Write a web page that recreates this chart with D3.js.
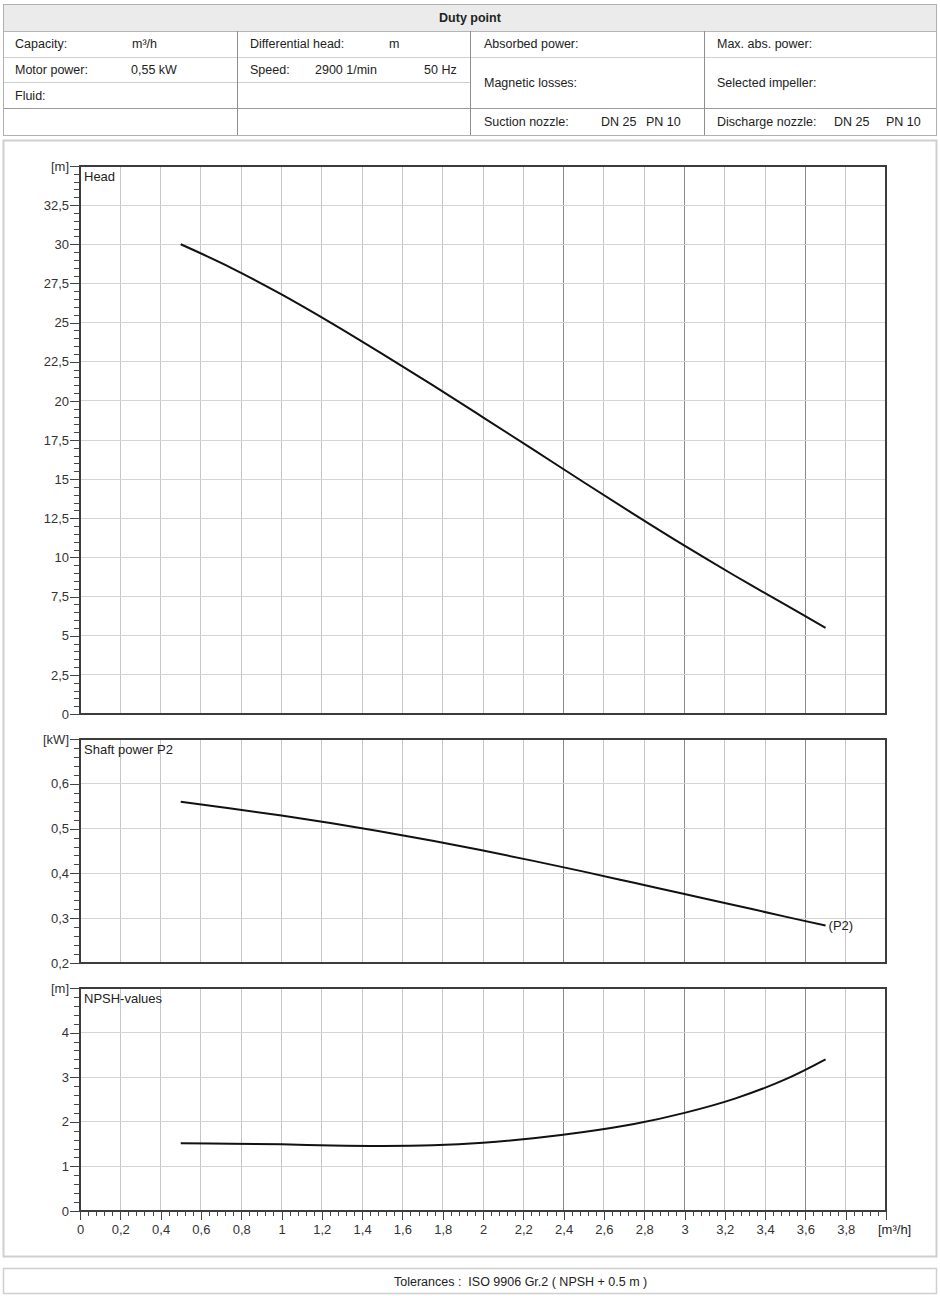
<!DOCTYPE html>
<meta charset="utf-8">

<style>

body {
  margin: 0;
  background: #fff;
}

svg text {
  font-family: "Liberation Sans", Arial, sans-serif;
  font-size: 12.5px;
  fill: #222;
}

svg .axis text {
  font-size: 13px;
  fill: #333;
}

svg .axis line,
svg .axis path {
  stroke: #444;
  shape-rendering: crispEdges;
}

svg .grid line {
  stroke: #c6c6c6;
  shape-rendering: crispEdges;
}

svg .grid line.dark {
  stroke: #8a8a8a;
}

svg .grid line.h {
  stroke: #d4d4d4;
}

svg .curve {
  fill: none;
  stroke: #111;
  stroke-width: 2;
}

</style>


<div>
  <svg class="chart" width="940" height="1296"></svg>
</div>


<script src="https://d3js.org/d3.v7.min.js"></script>

<script>

// curve points
var flow = [0.5, 0.75, 1, 1.25, 1.5, 1.75, 2, 2.25, 2.5, 2.75, 3, 3.25, 3.5, 3.7];
var head = [30.0, 28.5, 26.8, 24.95, 23.0, 21.0, 18.95, 16.88, 14.8, 12.75, 10.75, 8.83, 6.98, 5.5];
var power = [0.560, 0.545, 0.529, 0.512, 0.493, 0.473, 0.451, 0.428, 0.404, 0.379, 0.354, 0.329, 0.3035, 0.2835];
var npsh = [1.52, 1.51, 1.495, 1.47, 1.46, 1.475, 1.53, 1.63, 1.77, 1.95, 2.2, 2.52, 2.95, 3.4];

// tick labels
var flowTicks = [0, 0.2, 0.4, 0.6, 0.8, 1, 1.2, 1.4, 1.6, 1.8, 2, 2.2, 2.4, 2.6, 2.8, 3, 3.2, 3.4, 3.6, 3.8, 4];
var headTicks = [0, 2.5, 5, 7.5, 10, 12.5, 15, 17.5, 20, 22.5, 25, 27.5, 30, 32.5, 35];
var powerTicks = [0.2, 0.3, 0.4, 0.5, 0.6, 0.7];
var npshTicks = [0, 1, 2, 3, 4, 5];

// header table
var headerRows = [
  ["Capacity:", "m³/h", "Differential head:", "m", "Absorbed power:", "Max. abs. power:"],
  ["Motor power:", "0,55 kW", "Speed:", "2900 1/min", "50 Hz", "Fluid:"],
  ["Magnetic losses:", "Selected impeller:"],
  ["Suction nozzle:", "DN 25", "PN 10", "Discharge nozzle:", "DN 25", "PN 10"]
];

var svg = d3.select("svg.chart");
var fmt = d3.formatLocale({decimal: ",", thousands: ".", grouping: [3], currency: ["", "€"]}).format("~g");

// ---------- duty point table ----------
var table = svg.append("g");

table.append("rect")
  .attr("x", 3.5).attr("y", 4.5).attr("width", 933).attr("height", 27)
  .attr("fill", "#ebebeb");

function hline(x1, x2, y, color) {
  table.append("line")
    .attr("x1", x1).attr("x2", x2).attr("y1", y).attr("y2", y)
    .attr("stroke", color).attr("shape-rendering", "crispEdges");
}
function vline(x, y1, y2, color) {
  table.append("line")
    .attr("x1", x).attr("x2", x).attr("y1", y1).attr("y2", y2)
    .attr("stroke", color).attr("shape-rendering", "crispEdges");
}

hline(3, 936, 31, "#b5b5b5");
hline(3, 936, 57, "#cfcfcf");
hline(3, 470, 82, "#cfcfcf");
hline(3, 936, 108, "#9a9a9a");
vline(237, 31, 135, "#8e8e8e");
vline(470, 31, 135, "#8e8e8e");
vline(704, 31, 135, "#8e8e8e");

table.append("rect")
  .attr("x", 3.5).attr("y", 4.5).attr("width", 933).attr("height", 131)
  .attr("fill", "none").attr("stroke", "#b0b0b0");

table.append("text")
  .attr("x", 470).attr("y", 22)
  .attr("text-anchor", "middle")
  .style("font-weight", "bold")
  .text("Duty point");

var headerX = [
  [15, 132, 250, 389, 484, 717],
  [15, 131, 250, 315, 424, 15],
  [484, 717],
  [484, 601, 646, 717, 834, 886]
];
var headerY = [
  [48, 48, 48, 48, 48, 48],
  [74, 74, 74, 74, 74, 100],
  [87, 87],
  [126, 126, 126, 126, 126, 126]
];

headerRows.forEach(function(row, r) {
  table.selectAll(null)
    .data(row)
    .enter()
    .append("text")
      .attr("x", function(d, i) { return headerX[r][i]; })
      .attr("y", function(d, i) { return headerY[r][i]; })
      .text(function(d) { return d; });
});

// ---------- chart panel ----------
svg.append("rect")
  .attr("x", 3.5).attr("y", 140.5).attr("width", 933).attr("height", 1116)
  .attr("fill", "none").attr("stroke", "#cfcfcf").attr("stroke-width", 2);

var x = d3.scaleLinear().domain([0, 4]).range([80, 886]);

var panels = [
  {title: "Head", unit: "[m]", values: head, ticks: headTicks, minor: 0.5,
   y: d3.scaleLinear().domain([0, 35]).range([714, 166])},
  {title: "Shaft power P2", unit: "[kW]", values: power, ticks: powerTicks, minor: 0.02,
   y: d3.scaleLinear().domain([0.2, 0.7]).range([963, 739])},
  {title: "NPSH-values", unit: "[m]", values: npsh, ticks: npshTicks, minor: 0.2,
   y: d3.scaleLinear().domain([0, 5]).range([1211, 988])}
];

var darkLines = [2.4, 3, 3.6];

panels.forEach(function(p, k) {
  var g = svg.append("g");
  var y = p.y;
  var top = y.range()[1], bottom = y.range()[0];
  var dom = y.domain();

  // grid
  var grid = g.append("g").attr("class", "grid");
  grid.selectAll("line.v")
    .data(flowTicks.slice(1, -1))
    .enter()
    .append("line")
      .attr("class", function(d) { return darkLines.indexOf(d) >= 0 ? "v dark" : "v"; })
      .attr("x1", function(d) { return x(d); })
      .attr("x2", function(d) { return x(d); })
      .attr("y1", top).attr("y2", bottom);

  grid.selectAll("line.h")
    .data(p.ticks.slice(1, -1))
    .enter()
    .append("line")
      .attr("class", "h")
      .attr("x1", x(0)).attr("x2", x(4))
      .attr("y1", function(d) { return y(d); })
      .attr("y2", function(d) { return y(d); });

  // frame
  g.append("rect")
    .attr("x", x(0)).attr("y", top)
    .attr("width", x(4) - x(0)).attr("height", bottom - top)
    .attr("fill", "none").attr("stroke", "#3c3c3c").attr("stroke-width", 1.3)
    .attr("shape-rendering", "crispEdges");

  // y axis: minor then major
  var n = Math.round((dom[1] - dom[0]) / p.minor);
  var minorVals = d3.range(n + 1).map(function(i) { return dom[0] + i * p.minor; });

  g.append("g")
    .attr("class", "axis")
    .attr("transform", "translate(" + x(0) + ",0)")
    .call(d3.axisLeft(y).tickValues(minorVals).tickSize(6).tickFormat(""))
    .call(function(a) { a.select(".domain").remove(); });

  g.append("g")
    .attr("class", "axis")
    .attr("transform", "translate(" + x(0) + ",0)")
    .call(d3.axisLeft(y).tickValues(p.ticks).tickSize(10).tickPadding(1)
      .tickFormat(function(d, i) { return i === p.ticks.length - 1 ? p.unit : fmt(d); }))
    .call(function(a) { a.select(".domain").remove(); });

  // title
  g.append("text")
    .attr("x", x(0) + 4)
    .attr("y", top + 15)
    .style("font-size", "13px")
    .text(p.title);

  // curve
  var pts = flow.map(function(q, i) { return [q, p.values[i]]; });
  g.append("path")
    .datum(pts)
    .attr("class", "curve")
    .attr("d", d3.line()
      .x(function(d) { return x(d[0]); })
      .y(function(d) { return y(d[1]); })
      .curve(d3.curveCatmullRom));

  if (k === 1) {
    var last = pts[pts.length - 1];
    g.append("text")
      .attr("x", x(last[0]) + 3)
      .attr("y", y(last[1]) + 4.5)
      .style("font-size", "13px")
      .text("(P2)");
  }

  // x axis on the bottom panel only
  if (k === panels.length - 1) {
    var minorX = d3.range(101).map(function(i) { return i * 0.04; });
    g.append("g")
      .attr("class", "axis")
      .attr("transform", "translate(0," + bottom + ")")
      .call(d3.axisBottom(x).tickValues(minorX).tickSize(5).tickFormat(""))
      .call(function(a) { a.select(".domain").remove(); });

    g.append("g")
      .attr("class", "axis")
      .attr("transform", "translate(0," + bottom + ")")
      .call(d3.axisBottom(x).tickValues(flowTicks).tickSize(9).tickPadding(5)
        .tickFormat(function(d) { return d === 4 ? "" : fmt(d); }))
      .call(function(a) { a.select(".domain").remove(); });

    g.append("text")
      .attr("x", x(4) - 8)
      .attr("y", bottom + 23)
      .style("font-size", "13px")
      .text("[m³/h]");
  }
});

// ---------- tolerances ----------
svg.append("rect")
  .attr("x", 3.5).attr("y", 1268.5).attr("width", 933).attr("height", 25)
  .attr("fill", "none").attr("stroke", "#cfcfcf").attr("stroke-width", 1.5);

svg.append("text")
  .attr("x", 394).attr("y", 1286)
  .style("white-space", "pre")
  .text("Tolerances :  ISO 9906 Gr.2 ( NPSH + 0.5 m )");

</script>
